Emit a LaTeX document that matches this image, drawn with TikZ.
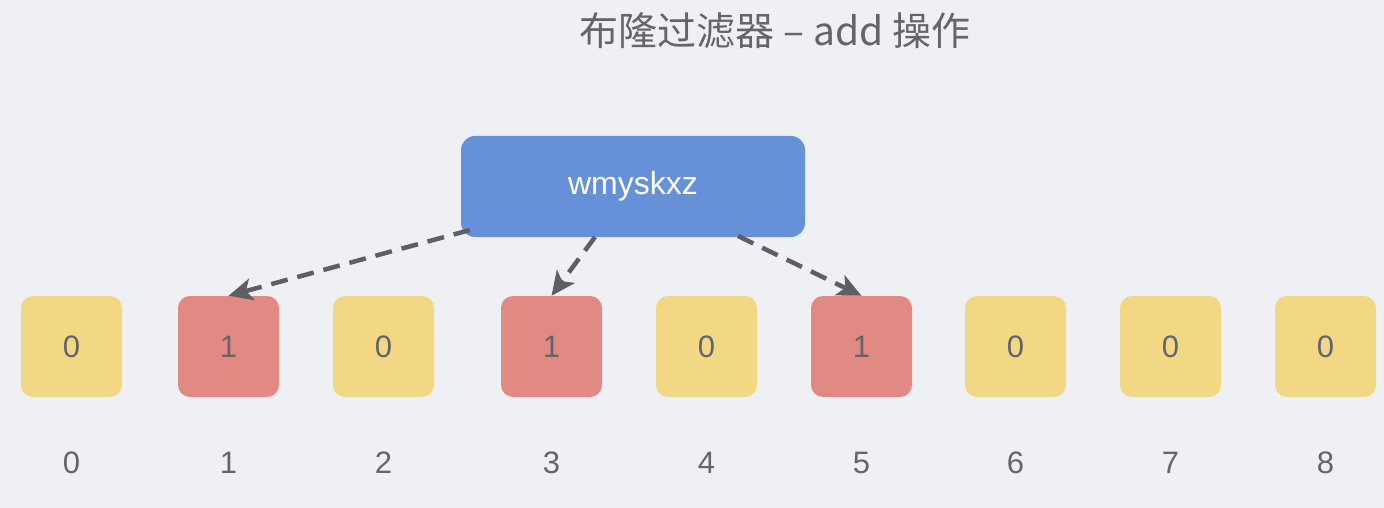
\documentclass[tikz,border=0pt]{standalone}
\usepackage{fontspec}
\setmainfont{Liberation Sans}
\newfontfamily\cjk{Noto Sans CJK SC}
\usetikzlibrary{arrows.meta}
\definecolor{bg}{RGB}{239,240,244}
\definecolor{cellY}{RGB}{242,215,132}
\definecolor{cellR}{RGB}{225,138,132}
\definecolor{keyB}{RGB}{102,145,216}
\definecolor{ink}{RGB}{100,100,108}
\definecolor{arr}{RGB}{95,94,102}
\tikzset{
  cell/.style={minimum width=101pt,minimum height=101pt,rounded corners=12pt,inner sep=0pt,text=ink,font=\fontsize{31}{31}\selectfont},
  zero/.style={cell,fill=cellY},
  one/.style={cell,fill=cellR},
  idx/.style={text=ink,font=\fontsize{31}{31}\selectfont,inner sep=0pt},
  keybox/.style={minimum width=344pt,minimum height=101pt,rounded corners=14pt,fill=keyB,text=white,font=\fontsize{32}{32}\selectfont,inner sep=0pt},
  hasharrow/.style={draw=arr,line width=4.5pt,dash pattern=on 17pt off 10pt,-{Stealth[length=24pt,width=22pt,inset=6pt]}}
}
\begin{document}
\begin{tikzpicture}[x=1pt,y=-1pt]
\fill[bg] (0,0) rectangle (1384,508);
\useasboundingbox (0,0) rectangle (1384,508);
\node[text=ink,font=\cjk\fontsize{39}{39}\selectfont,inner sep=0pt] (title) at (775,31) {布隆过滤器 – add 操作};
\node[keybox] (w) at (633,186.5) {wmyskxz};
\foreach \i/\x/\s/\v in {0/71.5/zero/0,1/228.5/one/1,2/383.5/zero/0,3/551.5/one/1,4/706.5/zero/0,5/861.5/one/1,6/1015.5/zero/0,7/1170.5/zero/0,8/1325.5/zero/0}{
  \node[\s] (b\i) at (\x,346.5) {\v};
  \node[idx] (n\i) at (\x,463) {\i};
}
\coordinate (s1) at (470,230);
\coordinate (s2) at (595,237);
\coordinate (s3) at (738,236);
\draw[hasharrow] (s1) -- (b1.north);
\draw[hasharrow] (s2) -- (b3.north);
\draw[hasharrow] (s3) -- (b5.north);
\end{tikzpicture}
\end{document}
